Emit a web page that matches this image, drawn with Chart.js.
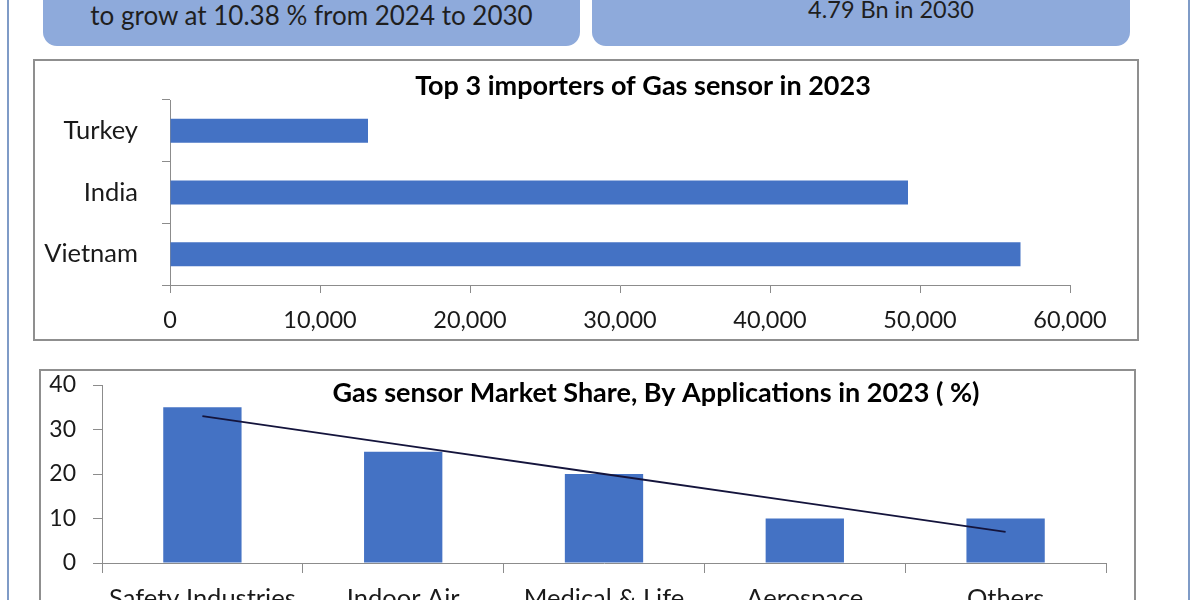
<!DOCTYPE html>
<html>
<head>
<meta charset="utf-8">
<script src="https://cdn.jsdelivr.net/npm/chart.js"></script>
<style>
html, body { margin: 0; padding: 0; width: 1200px; height: 600px; overflow: hidden; background: #fff; font-family: Lato, sans-serif; }
.frame { position: absolute; left: 7px; top: -10px; width: 1179px; height: 640px; border-left: 2px solid #7f9bc7; border-right: 2px solid #7f9bc7; }
.pill { position: absolute; top: -24px; height: 70px; background: #8eaadb; border-radius: 14px; color: #1f1f1f; font-size: 26px; }
.pill span { position: absolute; left: 0; width: 100%; text-align: center; line-height: 28px; white-space: nowrap; }
#pillA { left: 43px; width: 537px; }
#pillA span { top: 25px; }
#pillB { left: 592px; width: 538px; font-size: 23.5px; }
#pillB span { top: 19px; padding-left: 60px; box-sizing: border-box; }
.box { position: absolute; border: 2px solid #8f8f8f; background: #fff; }
#box1 { left: 33px; top: 59px; width: 1102px; height: 278px; }
#box2 { left: 39px; top: 369px; width: 1093px; height: 252px; }
.box div { position: relative; width: 100%; height: 100%; }
</style>
</head>
<body>
<div class="frame"></div>
<div class="pill" id="pillA"><span>to grow at 10.38 % from 2024 to 2030</span></div>
<div class="pill" id="pillB"><span>4.79 Bn in 2030</span></div>
<div class="box" id="box1"><div><canvas id="importChart"></canvas></div></div>
<div class="box" id="box2"><div><canvas id="shareChart"></canvas></div></div>
<script>
// importers chart
const importers = ['Turkey', 'India', 'Vietnam'];
const importValues = [13200, 49200, 56700];
const importTicks = [0, 10000, 20000, 30000, 40000, 50000, 60000];

// applications chart
const applications = ['Safety Industries', 'Indoor Air', 'Medical & Life', 'Aerospace', 'Others'];
const shareValues = [35, 25, 20, 10, 10];
const shareTicks = [0, 10, 20, 30, 40];

const barColor = '#4472c4';
const axisGray = '#8c8c8c';

Chart.defaults.font.family = 'Lato, sans-serif';
Chart.defaults.font.size = 23;
Chart.defaults.color = '#1a1a1a';
Chart.defaults.animation = false;

// title drawn at a fixed spot inside the box
const boxTitle = {
    id: 'boxTitle',
    afterDraw(chart, args, opts) {
        const ctx = chart.ctx;
        ctx.save();
        ctx.font = 'bold 27px Lato, sans-serif';
        ctx.fillStyle = '#000';
        ctx.textAlign = 'center';
        ctx.textBaseline = 'middle';
        ctx.fillText(opts.text, opts.x, opts.y);
        ctx.restore();
    }
};

// excel style linear trendline through the series
function trend(values) {
    const n = values.length;
    const mx = (n + 1) / 2;
    const my = values.reduce((a, b) => a + b, 0) / n;
    let sxy = 0, sxx = 0;
    values.forEach((v, i) => {
        sxy += (i + 1 - mx) * (v - my);
        sxx += (i + 1 - mx) * (i + 1 - mx);
    });
    const slope = sxy / sxx;
    return values.map((v, i) => my + slope * (i + 1 - mx));
}

function noPad(scale) {
    scale.paddingTop = 0;
    scale.paddingBottom = 0;
}

new Chart(document.getElementById('importChart'), {
    type: 'bar',
    data: {
        labels: importers,
        datasets: [{
            data: importValues,
            backgroundColor: barColor,
            barPercentage: 0.39,
            categoryPercentage: 1
        }]
    },
    plugins: [boxTitle],
    options: {
        indexAxis: 'y',
        responsive: true,
        maintainAspectRatio: false,
        layout: { padding: { top: 39, right: 67, left: 0, bottom: 0 } },
        plugins: {
            legend: { display: false },
            tooltip: { enabled: false },
            boxTitle: { text: 'Top 3 importers of Gas sensor in 2023', x: 608, y: 25 }
        },
        scales: {
            x: {
                min: importTicks[0],
                max: importTicks[importTicks.length - 1],
                ticks: {
                    stepSize: importTicks[1] - importTicks[0],
                    padding: 13,
                    font: { size: 23.5 },
                    callback: v => v.toLocaleString('en-US')
                },
                grid: { drawOnChartArea: false, tickLength: 8, color: axisGray },
                border: { color: axisGray },
                afterFit: s => { s.height = 54; }
            },
            y: {
                ticks: { font: { size: 25.5 }, padding: 24 },
                grid: { drawOnChartArea: false, tickLength: 8, color: axisGray },
                border: { color: axisGray },
                afterFit: s => { s.width = 135; noPad(s); }
            }
        }
    }
});

new Chart(document.getElementById('shareChart'), {
    type: 'bar',
    data: {
        labels: applications,
        datasets: [{
            type: 'line',
            data: trend(shareValues),
            borderColor: '#14143c',
            borderWidth: 1.8,
            pointRadius: 0,
            order: 0
        }, {
            data: shareValues,
            backgroundColor: barColor,
            barPercentage: 0.39,
            categoryPercentage: 1,
            order: 1
        }]
    },
    plugins: [boxTitle],
    options: {
        responsive: true,
        maintainAspectRatio: false,
        layout: { padding: { top: 14, right: 28, left: 0, bottom: 0 } },
        plugins: {
            legend: { display: false },
            tooltip: { enabled: false },
            boxTitle: { text: 'Gas sensor Market Share, By Applications in 2023 ( %)', x: 615, y: 22 }
        },
        scales: {
            x: {
                ticks: { font: { size: 25.5 }, padding: 10, autoSkip: false, maxRotation: 0 },
                grid: { drawOnChartArea: false, tickLength: 10, color: axisGray },
                border: { color: axisGray },
                afterFit: s => { s.height = 60; }
            },
            y: {
                min: shareTicks[0],
                max: shareTicks[shareTicks.length - 1],
                ticks: { stepSize: shareTicks[1] - shareTicks[0], padding: 17 },
                grid: { drawOnChartArea: false, tickLength: 9, color: axisGray },
                border: { color: axisGray },
                afterFit: s => { s.width = 61; noPad(s); }
            }
        }
    }
});
</script>
</body>
</html>
